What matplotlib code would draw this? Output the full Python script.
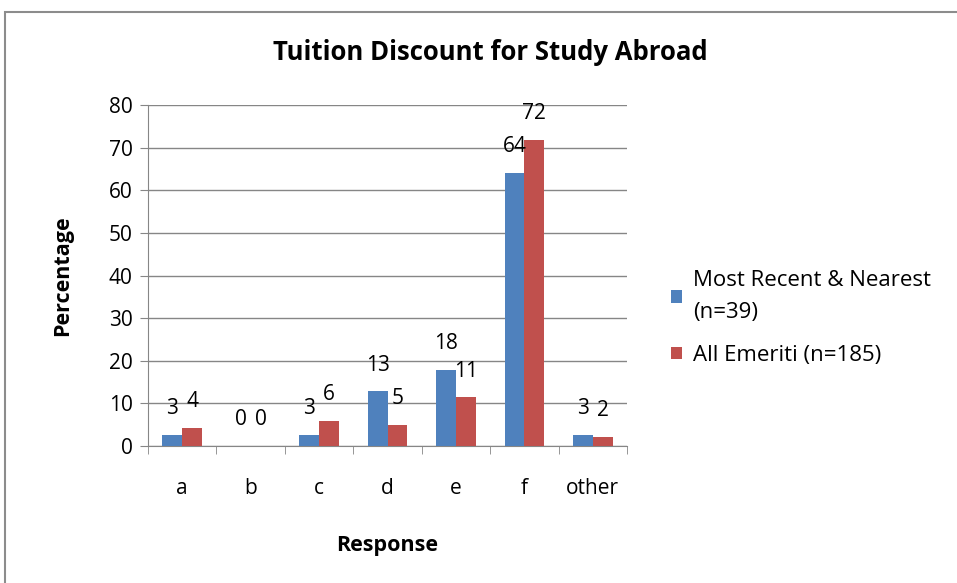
import matplotlib.pyplot as plt
from matplotlib.patches import Rectangle
import numpy as np

categorias = ["a", "b", "c", "d", "e", "f", "other"]
recientes = [2.6, 0, 2.6, 12.8, 17.9, 64.1, 2.6]      # Most Recent & Nearest (n=39)
emeriti = [4.3, 0, 5.9, 4.9, 11.4, 71.9, 2.2]         # All Emeriti (n=185)
etiquetas_rec = ["3", "0", "3", "13", "18", "64", "3"]
etiquetas_em = ["4", "0", "6", "5", "11", "72", "2"]

azul = "#4F81BD"
rojo = "#C0504D"
gris = "#868686"
fuente = "Open Sans"

fig = plt.figure(figsize=(9.57, 5.83), dpi=100)
ax = fig.add_axes([148 / 957, 1 - 446 / 583, (627 - 148) / 957, (446 - 105) / 583])

# marco exterior del grafico
fig.patches.append(Rectangle((5 / 957, -0.1), 1.2, 1 - 12 / 583 + 0.1, transform=fig.transFigure,
                             fill=False, edgecolor="#8c8c8c", linewidth=1.5))

x = np.arange(len(categorias))
ancho = 0.29
b1 = ax.bar(x - ancho / 2, recientes, ancho, color=azul, label="Most Recent & Nearest\n(n=39)", zorder=3)
b2 = ax.bar(x + ancho / 2, emeriti, ancho, color=rojo, label="All Emeriti (n=185)", zorder=3)

for barras, etiquetas in [(b1, etiquetas_rec), (b2, etiquetas_em)]:
    for barra, txt in zip(barras, etiquetas):
        ax.annotate(txt, (barra.get_x() + barra.get_width() / 2, barra.get_height()),
                    xytext=(0, 19), textcoords="offset points", ha="center", va="center",
                    fontsize=15, family=fuente)

ax.set_xlim(-0.5, len(categorias) - 0.5)
ax.set_ylim(0, 80)
ax.set_yticks(range(0, 81, 10))
ax.set_xticks(x)
ax.set_xticklabels(categorias)
ax.set_xticks(np.arange(-0.5, len(categorias)), minor=True)
ax.tick_params(axis="x", which="major", length=0, pad=23)
ax.tick_params(axis="x", which="minor", length=6, color=gris)
ax.tick_params(axis="y", length=6, color=gris, pad=5)
for lbl in ax.get_xticklabels() + ax.get_yticklabels():
    lbl.set_fontfamily(fuente)
    lbl.set_fontsize(15)

ax.grid(axis="y", color=gris, linewidth=1, zorder=0)
for lado in ["top", "right"]:
    ax.spines[lado].set_visible(False)
ax.spines["left"].set_color(gris)
ax.spines["bottom"].set_color(gris)

ax.set_xlabel("Response", fontsize=15.5, fontweight="bold", family=fuente, labelpad=26)
ax.set_ylabel("Percentage", fontsize=15.5, fontweight="bold", family=fuente, labelpad=26)
fig.text(490 / 957, 1 - 53 / 583, "Tuition Discount for Study Abroad", ha="center", va="center",
         fontsize=18.5, fontweight="bold", family=fuente)

ley = fig.legend(loc="center left", bbox_to_anchor=(651 / 957, 1 - 318 / 583), frameon=False,
                 prop={"family": fuente, "size": 16}, handlelength=0.5, handleheight=0.5,
                 handletextpad=0.5, labelspacing=1.0)
for t in ley.get_texts():
    t.set_linespacing(1.65)

plt.savefig("out.png", dpi=100)
